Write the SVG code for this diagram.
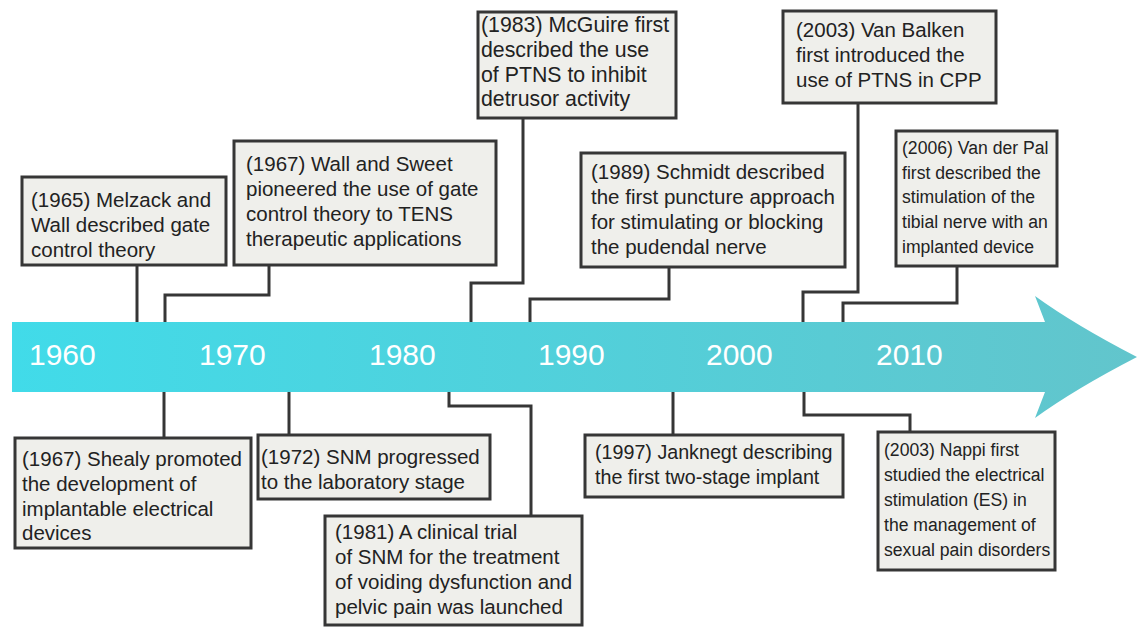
<svg xmlns="http://www.w3.org/2000/svg" width="1137" height="628" viewBox="0 0 1137 628">
<defs>
<linearGradient id="band" x1="0" y1="0" x2="1" y2="0">
<stop offset="0" stop-color="#41dbe9"/>
<stop offset="1" stop-color="#62c5cc"/>
</linearGradient>
<style>
.box{fill:#efefeb;stroke:#363636;stroke-width:3}
.t{font-family:"Liberation Sans",Arial,sans-serif;font-size:20.5px;fill:#222}
.s{font-size:17.6px}
.yr{font-family:"Liberation Sans",Arial,sans-serif;font-size:30px;fill:#ffffff}
.c{fill:none;stroke:#363636;stroke-width:3}
</style>
</defs>
<rect width="1137" height="628" fill="#ffffff"/>
<g id="timeline">
<path d="M12,322 H1045 L1035,296 Q1075,325 1137,357 Q1075,389 1035,418 L1045,392 H12 Z" fill="url(#band)"/>
<text class="yr" x="29" y="365">1960</text>
<text class="yr" x="199" y="365">1970</text>
<text class="yr" x="369" y="365">1980</text>
<text class="yr" x="538" y="365">1990</text>
<text class="yr" x="706" y="365">2000</text>
<text class="yr" x="876" y="365">2010</text>
</g>
<g id="connectors">
<path class="c" d="M137,265 V322"/>
<path class="c" d="M269,265 V295 H165 V322"/>
<path class="c" d="M523,118 V283 H471 V322"/>
<path class="c" d="M669,267 V299 H530 V322"/>
<path class="c" d="M858,103 V292 H803 V322"/>
<path class="c" d="M957,266 V303 H843 V322"/>
<path class="c" d="M164,392 V438"/>
<path class="c" d="M289,392 V435"/>
<path class="c" d="M449,392 V406 H531 V516"/>
<path class="c" d="M673,392 V435"/>
<path class="c" d="M804,392 V415 H910 V432"/>
</g>
<g id="n1965">
<rect class="box" x="22" y="177" width="204" height="88"/>
<text class="t" x="31" y="207">(1965) Melzack and</text>
<text class="t" x="31" y="232">Wall described gate</text>
<text class="t" x="31" y="257">control theory</text>
</g>
<g id="n1967a">
<rect class="box" x="234" y="141" width="262" height="124"/>
<text class="t" x="246" y="171">(1967) Wall and Sweet</text>
<text class="t" x="246" y="196">pioneered the use of gate</text>
<text class="t" x="246" y="221">control theory to TENS</text>
<text class="t" x="246" y="246">therapeutic applications</text>
</g>
<g id="n1983">
<rect class="box" x="478" y="12" width="198" height="106"/>
<text class="t" x="481" y="32" style="font-size:21.3px">(1983) McGuire first</text>
<text class="t" x="481" y="57" style="font-size:21.3px">described the use</text>
<text class="t" x="481" y="82" style="font-size:21.3px">of PTNS to inhibit</text>
<text class="t" x="481" y="106" style="font-size:21.3px">detrusor activity</text>
</g>
<g id="n1989">
<rect class="box" x="581" y="153" width="264" height="114"/>
<text class="t" x="591" y="179">(1989) Schmidt described</text>
<text class="t" x="591" y="204">the first puncture approach</text>
<text class="t" x="591" y="229">for stimulating or blocking</text>
<text class="t" x="591" y="254">the pudendal nerve</text>
</g>
<g id="n2003a">
<rect class="box" x="783" y="11" width="213" height="92"/>
<text class="t" x="796" y="37">(2003) Van Balken</text>
<text class="t" x="796" y="62">first introduced the</text>
<text class="t" x="796" y="87">use of PTNS in CPP</text>
</g>
<g id="n2006">
<rect class="box" x="896" y="131" width="161" height="135"/>
<text class="t s" x="902" y="154">(2006) Van der Pal</text>
<text class="t s" x="902" y="179">first described the</text>
<text class="t s" x="902" y="203">stimulation of the</text>
<text class="t s" x="902" y="228">tibial nerve with an</text>
<text class="t s" x="902" y="253">implanted device</text>
</g>
<g id="n1967b">
<rect class="box" x="15" y="438" width="236" height="110"/>
<text class="t" x="22" y="466">(1967) Shealy promoted</text>
<text class="t" x="22" y="491">the development of</text>
<text class="t" x="22" y="516">implantable electrical</text>
<text class="t" x="22" y="540">devices</text>
</g>
<g id="n1972">
<rect class="box" x="258" y="435" width="232" height="64"/>
<text class="t" x="261" y="464">(1972) SNM progressed</text>
<text class="t" x="261" y="489">to the laboratory stage</text>
</g>
<g id="n1981">
<rect class="box" x="325" y="516" width="257" height="109"/>
<text class="t" x="335" y="539">(1981) A clinical trial</text>
<text class="t" x="335" y="564">of SNM for the treatment</text>
<text class="t" x="335" y="589">of voiding dysfunction and</text>
<text class="t" x="335" y="614">pelvic pain was launched</text>
</g>
<g id="n1997">
<rect class="box" x="585" y="435" width="258" height="62"/>
<text class="t" x="595" y="459" style="font-size:19.7px">(1997) Janknegt describing</text>
<text class="t" x="595" y="484" style="font-size:19.7px">the first two-stage implant</text>
</g>
<g id="n2003b">
<rect class="box" x="878" y="432" width="177" height="138"/>
<text class="t s" x="884" y="456">(2003) Nappi first</text>
<text class="t s" x="884" y="481">studied the electrical</text>
<text class="t s" x="884" y="506">stimulation (ES) in</text>
<text class="t s" x="884" y="531">the management of</text>
<text class="t s" x="884" y="556">sexual pain disorders</text>
</g>
</svg>
